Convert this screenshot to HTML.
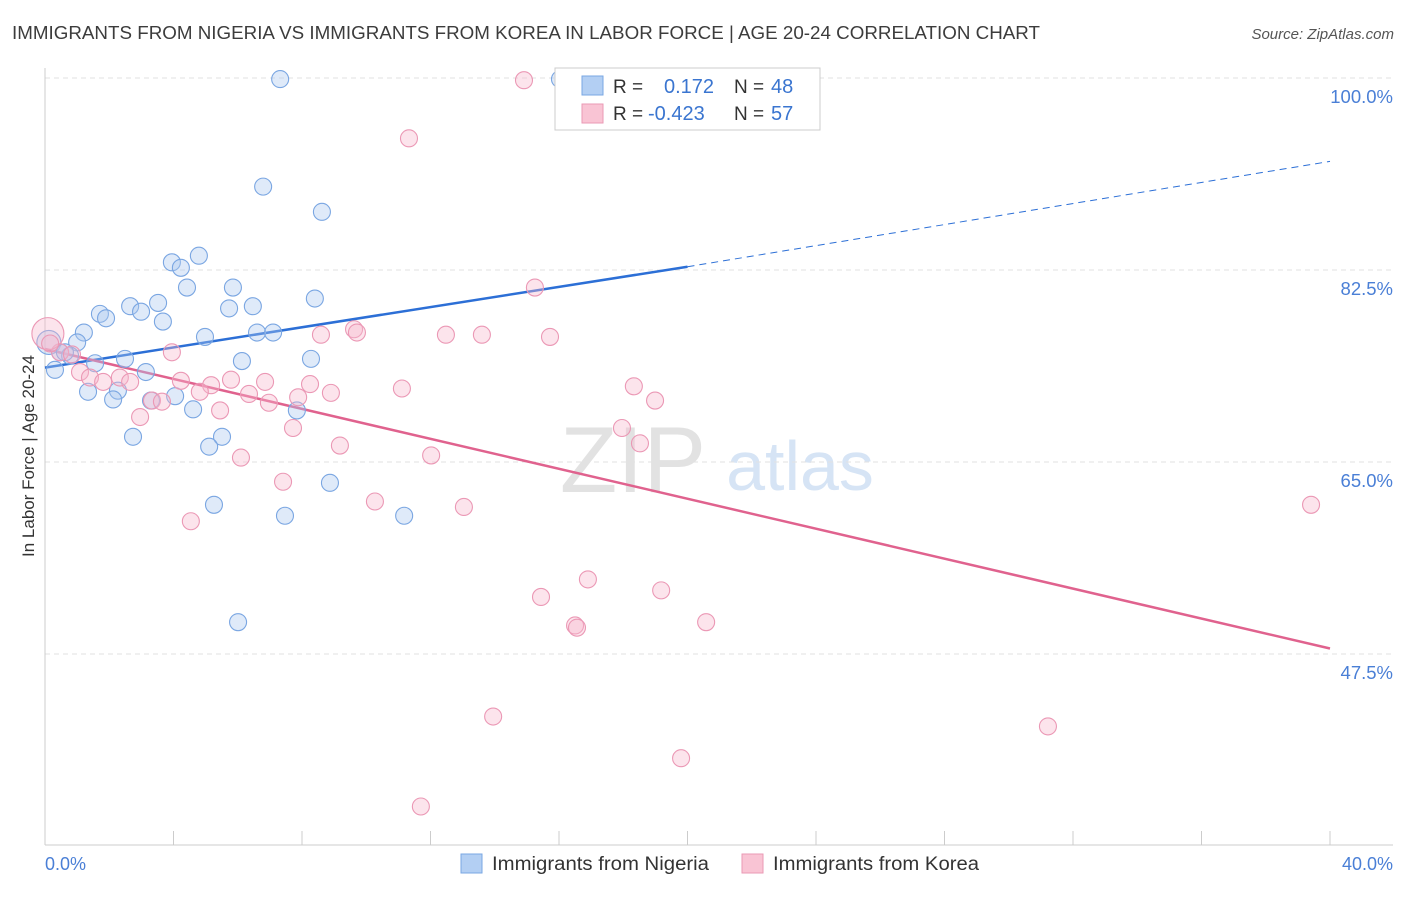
<!DOCTYPE html>
<html><head><meta charset="utf-8"><style>
body{margin:0;background:#fff;font-family:"Liberation Sans",sans-serif;}
svg text{font-family:"Liberation Sans",sans-serif;}
</style></head><body>
<svg id="chart" width="1406" height="892" viewBox="0 0 1406 892" xmlns="http://www.w3.org/2000/svg">
<text x="12" y="39" font-size="18" fill="#3c3c3c" textLength="1028" lengthAdjust="spacingAndGlyphs">IMMIGRANTS FROM NIGERIA VS IMMIGRANTS FROM KOREA IN LABOR FORCE | AGE 20-24 CORRELATION CHART</text>
<text x="1394" y="39" font-size="15" fill="#555" text-anchor="end" font-style="italic">Source: ZipAtlas.com</text>
<g>
<text x="633" y="492" font-size="94" fill="#e2e2e2" text-anchor="middle" font-family="Liberation Serif">ZIP</text>
<text x="800" y="490" font-size="70" fill="#d6e4f5" text-anchor="middle">atlas</text>
</g>
<g id="grid"></g>
<g id="axes"></g>
<g id="lines"></g>
<g id="points"></g>
<text transform="translate(34,456) rotate(-90)" font-size="17" fill="#333" text-anchor="middle">In Labor Force | Age 20-24</text>
<text x="45" y="870" font-size="18" fill="#4a7fd6">0.0%</text>
<text x="1393" y="870" font-size="18" fill="#4a7fd6" text-anchor="end">40.0%</text>
<g>
<rect x="555" y="68" width="265" height="62" fill="#fff" stroke="#ccc"/>
<rect x="582" y="76" width="21" height="19" fill="#b3cff3" stroke="#7aa7e3"/>
<rect x="582" y="104" width="21" height="19" fill="#f9c4d4" stroke="#ea9ab4"/>
<text x="613" y="93" font-size="19" fill="#333">R = </text><text x="664" y="93" font-size="20" fill="#3a75d0">0.172</text>
<text x="734" y="93" font-size="19" fill="#333">N = </text><text x="771" y="93" font-size="20" fill="#3a75d0">48</text>
<text x="613" y="120" font-size="19" fill="#333">R = </text><text x="648" y="120" font-size="20" fill="#3a75d0">-0.423</text>
<text x="734" y="120" font-size="19" fill="#333">N = </text><text x="771" y="120" font-size="20" fill="#3a75d0">57</text>
</g>
<g>
<rect x="461" y="854" width="21" height="19" fill="#b3cff3" stroke="#7aa7e3"/>
<text x="492" y="870" font-size="19" fill="#333" textLength="217" lengthAdjust="spacingAndGlyphs">Immigrants from Nigeria</text>
<rect x="742" y="854" width="21" height="19" fill="#f9c4d4" stroke="#ea9ab4"/>
<text x="773" y="870" font-size="19" fill="#333" textLength="206" lengthAdjust="spacingAndGlyphs">Immigrants from Korea</text>
</g>
</svg>
<script>
const yTicks=[100,82.5,65,47.5];
const yTickLabels=["100.0%","82.5%","65.0%","47.5%"];
const xTicks=[0,4,8,12,16,20,24,28,32,36,40];
const nigeriaX=[7.32,16.03,6.79,8.62,4.79,3.95,4.23,4.42,5.85,2.65,3.52,1.71,2.99,1.90,6.47,5.73,8.40,3.67,1.21,4.98,6.60,7.10,1.00,0.12,0.47,0.78,1.56,2.49,6.13,8.28,0.31,3.14,1.34,2.27,2.12,3.30,4.05,4.61,7.84,2.74,5.51,5.11,8.87,5.26,7.47,11.18,6.01,0.62];
const nigeriaY=[99.9,99.9,90.1,87.8,83.8,83.2,82.7,80.9,80.9,79.2,79.5,78.5,78.7,78.1,79.2,79.0,79.9,77.8,76.8,76.4,76.8,76.8,75.9,75.9,75.0,74.7,74.0,74.4,74.2,74.4,73.4,73.2,71.4,71.5,70.7,70.6,71.0,69.8,69.7,67.3,67.3,66.4,63.1,61.1,60.1,60.1,50.4,75.0];
const koreaX=[14.91,11.33,15.25,9.62,9.71,8.59,12.48,13.60,15.72,3.95,0.47,0.84,1.09,1.40,2.33,1.81,2.65,4.23,5.17,5.79,6.85,4.82,6.35,8.25,8.90,11.11,7.88,6.97,3.33,3.64,5.45,2.96,7.72,18.33,18.99,17.96,18.52,9.18,6.10,12.02,7.41,10.27,13.04,4.54,16.90,19.18,15.44,16.50,16.56,20.58,13.95,31.22,19.80,11.70,39.41,0.09,0.16];
const koreaY=[99.8,94.5,80.9,77.1,76.8,76.6,76.6,76.6,76.4,75.0,75.0,74.8,73.2,72.7,72.7,72.3,72.3,72.4,72.0,72.5,72.3,71.4,71.2,72.1,71.3,71.7,70.9,70.4,70.6,70.5,69.7,69.1,68.1,71.9,70.6,68.1,66.7,66.5,65.4,65.6,63.2,61.4,60.9,59.6,54.3,53.3,52.7,50.1,49.9,50.4,41.8,40.9,38.0,33.6,61.1,76.7,75.8];
const nigeriaTrend=[73.6,82.8,92.4];   // values at x=0,20,40
const koreaTrend=[75.3,48.0];          // values at x=0,40
const NS="http://www.w3.org/2000/svg";
const X0=45,X1=1330,Y_TOP=78,PX_PER=192/17.5;
function sx(v){return X0+(v/40)*(X1-X0);}
function sy(v){return Y_TOP+(100-v)*PX_PER;}
function mk(tag,attrs,parent){const e=document.createElementNS(NS,tag);for(const k in attrs)e.setAttribute(k,attrs[k]);parent.appendChild(e);return e;}
const grid=document.getElementById('grid'),axes=document.getElementById('axes'),lines=document.getElementById('lines'),pts=document.getElementById('points');
yTicks.forEach((t,i)=>{
 const l=mk('line',{x1:45,x2:1393,y1:sy(t),y2:sy(t),stroke:'#e2e2e2','stroke-dasharray':'5,4'},grid);
 
 
 const tx=mk('text',{x:1393,y:sy(t)+25,'font-size':18.5,fill:'#4a7fd6','text-anchor':'end'},grid);
 tx.textContent=yTickLabels[i];
 
 
});
const ax=mk('line',{x1:45,x2:45,y1:68,y2:845,stroke:'#ccc'},axes);


const bx=mk('line',{x1:45,x2:1393,y1:845,y2:845,stroke:'#ccc'},axes);


xTicks.forEach(t=>{
 const l=mk('line',{x1:sx(t),x2:sx(t),y1:831,y2:845,stroke:'#ccc'},axes);
 
 
});
const bl=mk('line',{x1:sx(0),y1:sy(nigeriaTrend[0]),x2:sx(20),y2:sy(nigeriaTrend[1]),stroke:'#2c6fd6','stroke-width':2.5},lines);


const bd=mk('line',{x1:sx(20),y1:sy(nigeriaTrend[1]),x2:sx(40),y2:sy(nigeriaTrend[2]),stroke:'#2c6fd6','stroke-width':1,'stroke-dasharray':'7,5'},lines);


const pl=mk('line',{x1:sx(0),y1:sy(koreaTrend[0]),x2:sx(40),y2:sy(koreaTrend[1]),stroke:'#e0628e','stroke-width':2.5},lines);


nigeriaX.forEach((x,i)=>{
 const r=(i===23)?12:8.5;
 const c=mk('circle',{cx:sx(x),cy:sy(nigeriaY[i]),r:r,fill:'rgba(170,200,240,0.38)',stroke:'#7aa6e2','stroke-width':1.1},pts);
 
 
});
koreaX.forEach((x,i)=>{
 const r=(i===55)?16:8.5;
 const c=mk('circle',{cx:sx(x),cy:sy(koreaY[i]),r:r,fill:'rgba(246,185,205,0.38)',stroke:'#eb98b5','stroke-width':1.1},pts);
 
 
});
</script>
</body></html>
